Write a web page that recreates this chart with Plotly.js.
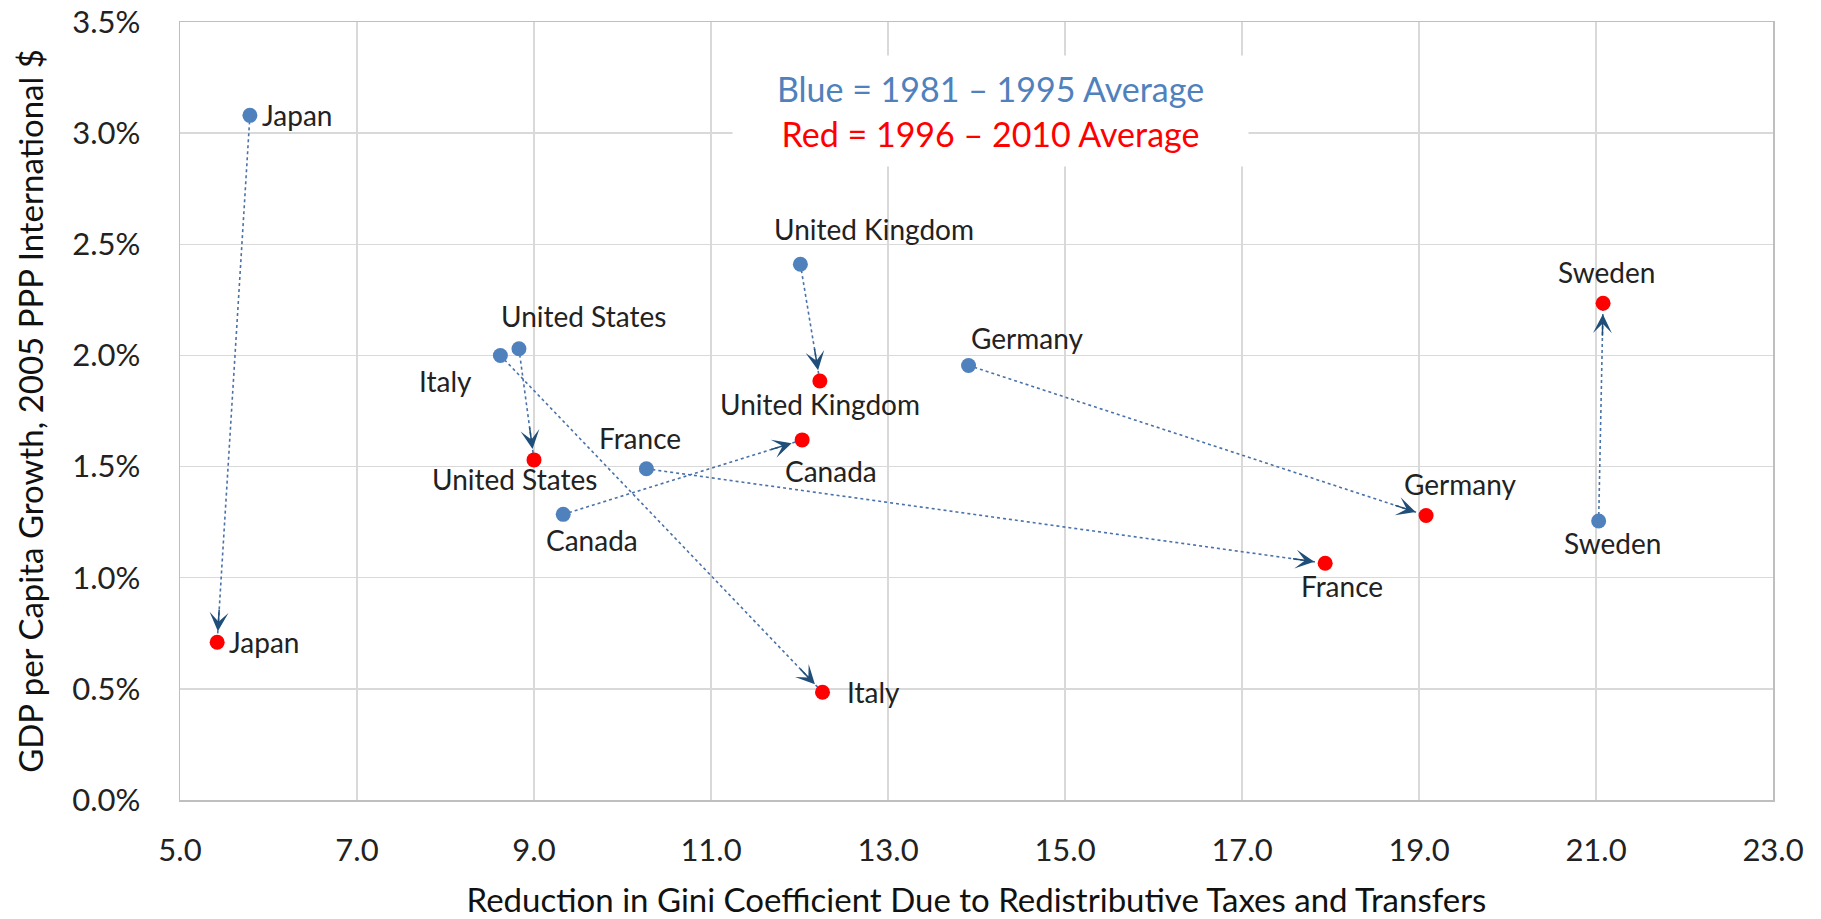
<!DOCTYPE html>
<html>
<head>
<meta charset="utf-8">
<script src="https://cdn.plot.ly/plotly-3.0.1.min.js"></script>
<style>html,body{margin:0;padding:0;background:#fff;}#chart{width:1821px;height:919px;}</style>
</head>
<body>
<div id="chart"></div>
<script>
// ---- data ----
const countries = ["Japan", "Italy", "United States", "Canada", "France", "United Kingdom", "Germany", "Sweden"];
const giniEarly = [5.79, 8.62, 8.83, 9.33, 10.27, 12.01, 13.91, 21.03];   // 1981-1995 avg
const growthEarly = [3.08, 2.00, 2.03, 1.285, 1.49, 2.41, 1.955, 1.255];
const giniLate = [5.42, 12.26, 9.00, 12.03, 17.94, 12.23, 19.08, 21.08];  // 1996-2010 avg
const growthLate = [0.71, 0.485, 1.53, 1.62, 1.065, 1.885, 1.28, 2.235];
const xTickVals = [5, 7, 9, 11, 13, 15, 17, 19, 21, 23];
const yTickVals = [0, 0.5, 1.0, 1.5, 2.0, 2.5, 3.0, 3.5];
const yTickText = yTickVals.map(v => v.toFixed(1) + "%");
const xTickText = xTickVals.map(v => v.toFixed(1));

// ---- styles / label placement (pixels) ----
const W = 1821, H = 919;
const M = {l: 180, r: 48, t: 22, b: 119};
const XR = [5, 23], YR = [0, 3.5];
const FONT = "Lato, 'Open Sans', sans-serif";
const BLUE = "#4F81BD", RED = "#FF0000", ARROW = "#1F4E79", LINE = "#4A72A8";
const labelEarly = {
  "Japan": {ax: "left", dx: 10, dy: 0},
  "Italy": {ax: "center", dx: -55, dy: -26},
  "United States": {ax: "center", dx: 65, dy: 33},
  "Canada": {ax: "center", dx: 29, dy: -26},
  "France": {ax: "center", dx: -6, dy: 31},
  "United Kingdom": {ax: "center", dx: 74, dy: 35},
  "Germany": {ax: "center", dx: 58, dy: 27},
  "Sweden": {ax: "center", dx: 14, dy: -22}
};
const labelLate = {
  "Japan": {ax: "left", dx: 10, dy: 0},
  "Italy": {ax: "left", dx: 22, dy: 0},
  "United States": {ax: "center", dx: -20, dy: -19},
  "Canada": {ax: "center", dx: 29, dy: -31},
  "France": {ax: "center", dx: 17, dy: -23},
  "United Kingdom": {ax: "center", dx: 0, dy: -23},
  "Germany": {ax: "center", dx: 34, dy: 31},
  "Sweden": {ax: "center", dx: 3, dy: 31}
};

const traces = [];
// connecting dotted lines
countries.forEach((c, i) => {
  traces.push({
    x: [giniEarly[i], giniLate[i]], y: [growthEarly[i], growthLate[i]],
    mode: "lines", type: "scatter", hoverinfo: "skip", showlegend: false,
    line: {color: LINE, width: 1.6, dash: "dot"}
  });
});
traces.push({
  x: giniEarly, y: growthEarly, text: countries, mode: "markers", type: "scatter",
  name: "1981-1995", showlegend: false,
  marker: {color: BLUE, size: 15}
});
traces.push({
  x: giniLate, y: growthLate, text: countries, mode: "markers", type: "scatter",
  name: "1996-2010", showlegend: false,
  marker: {color: RED, size: 15}
});

const pw = W - M.l - M.r, ph = H - M.t - M.b;
const sx = pw / (XR[1] - XR[0]), sy = ph / (YR[1] - YR[0]);
const annotations = [];
// arrowheads at the late points
countries.forEach((c, i) => {
  const dxp = (giniLate[i] - giniEarly[i]) * sx;
  const dyp = -(growthLate[i] - growthEarly[i]) * sy;
  const len = Math.sqrt(dxp * dxp + dyp * dyp);
  const L = 34;
  annotations.push({
    x: giniLate[i], y: growthLate[i], xref: "x", yref: "y",
    axref: "pixel", ayref: "pixel",
    ax: -dxp / len * L, ay: -dyp / len * L,
    showarrow: true, arrowhead: 3, arrowsize: 2.1, arrowwidth: 1.5,
    arrowcolor: ARROW, standoff: 11, text: ""
  });
});
// point labels
function addLabels(xs, ys, place) {
  countries.forEach((c, i) => {
    const p = place[c];
    annotations.push({
      x: xs[i], y: ys[i], xref: "x", yref: "y", text: c, showarrow: false,
      xanchor: p.ax, yanchor: "middle", xshift: p.dx, yshift: p.dy,
      font: {family: FONT, size: 28, color: "#222222"}
    });
  });
}
addLabels(giniEarly, growthEarly, labelEarly);
addLabels(giniLate, growthLate, labelLate);
// legend box
annotations.push({
  xref: "paper", yref: "paper", x: 0.509, y: 0.886, xanchor: "center", yanchor: "middle",
  showarrow: false, bgcolor: "#FFFFFF", width: 515, height: 110, borderpad: 0,
  text: "<span style='color:" + BLUE + "'>Blue = 1981 – 1995 Average</span><br><span style='color:" + RED + "'>Red = 1996 – 2010 Average</span>",
  font: {family: FONT, size: 34}
});

const layout = {
  width: W, height: H,
  margin: M,
  paper_bgcolor: "#FFFFFF", plot_bgcolor: "#FFFFFF",
  font: {family: FONT, color: "#222222"},
  showlegend: false,
  xaxis: {
    range: XR, tickvals: xTickVals, ticktext: xTickText,
    showgrid: true, gridcolor: "#D9D9D9", gridwidth: 1.5,
    showline: true, linecolor: "#BFBFBF", linewidth: 1.5, mirror: true,
    zeroline: false, ticks: "outside", ticklen: 22, tickcolor: "rgba(0,0,0,0)",
    tickfont: {family: FONT, size: 31, color: "#222222"},
    title: {text: "Reduction in Gini Coefficient Due to Redistributive Taxes and Transfers",
            font: {family: FONT, size: 33, color: "#111111"}, standoff: 22}
  },
  yaxis: {
    range: YR, tickvals: yTickVals, ticktext: yTickText,
    showgrid: true, gridcolor: "#D9D9D9", gridwidth: 1.5,
    showline: true, linecolor: "#BFBFBF", linewidth: 1.5, mirror: true,
    zeroline: false, ticks: "outside", ticklen: 32, tickcolor: "rgba(0,0,0,0)",
    tickfont: {family: FONT, size: 31, color: "#222222"},
    title: {text: "GDP per Capita Growth, 2005 PPP International $",
            font: {family: FONT, size: 33, color: "#111111"}, standoff: 18}
  },
  annotations: annotations
};

Plotly.newPlot("chart", traces, layout, {displayModeBar: false, staticPlot: true});
</script>
</body>
</html>
